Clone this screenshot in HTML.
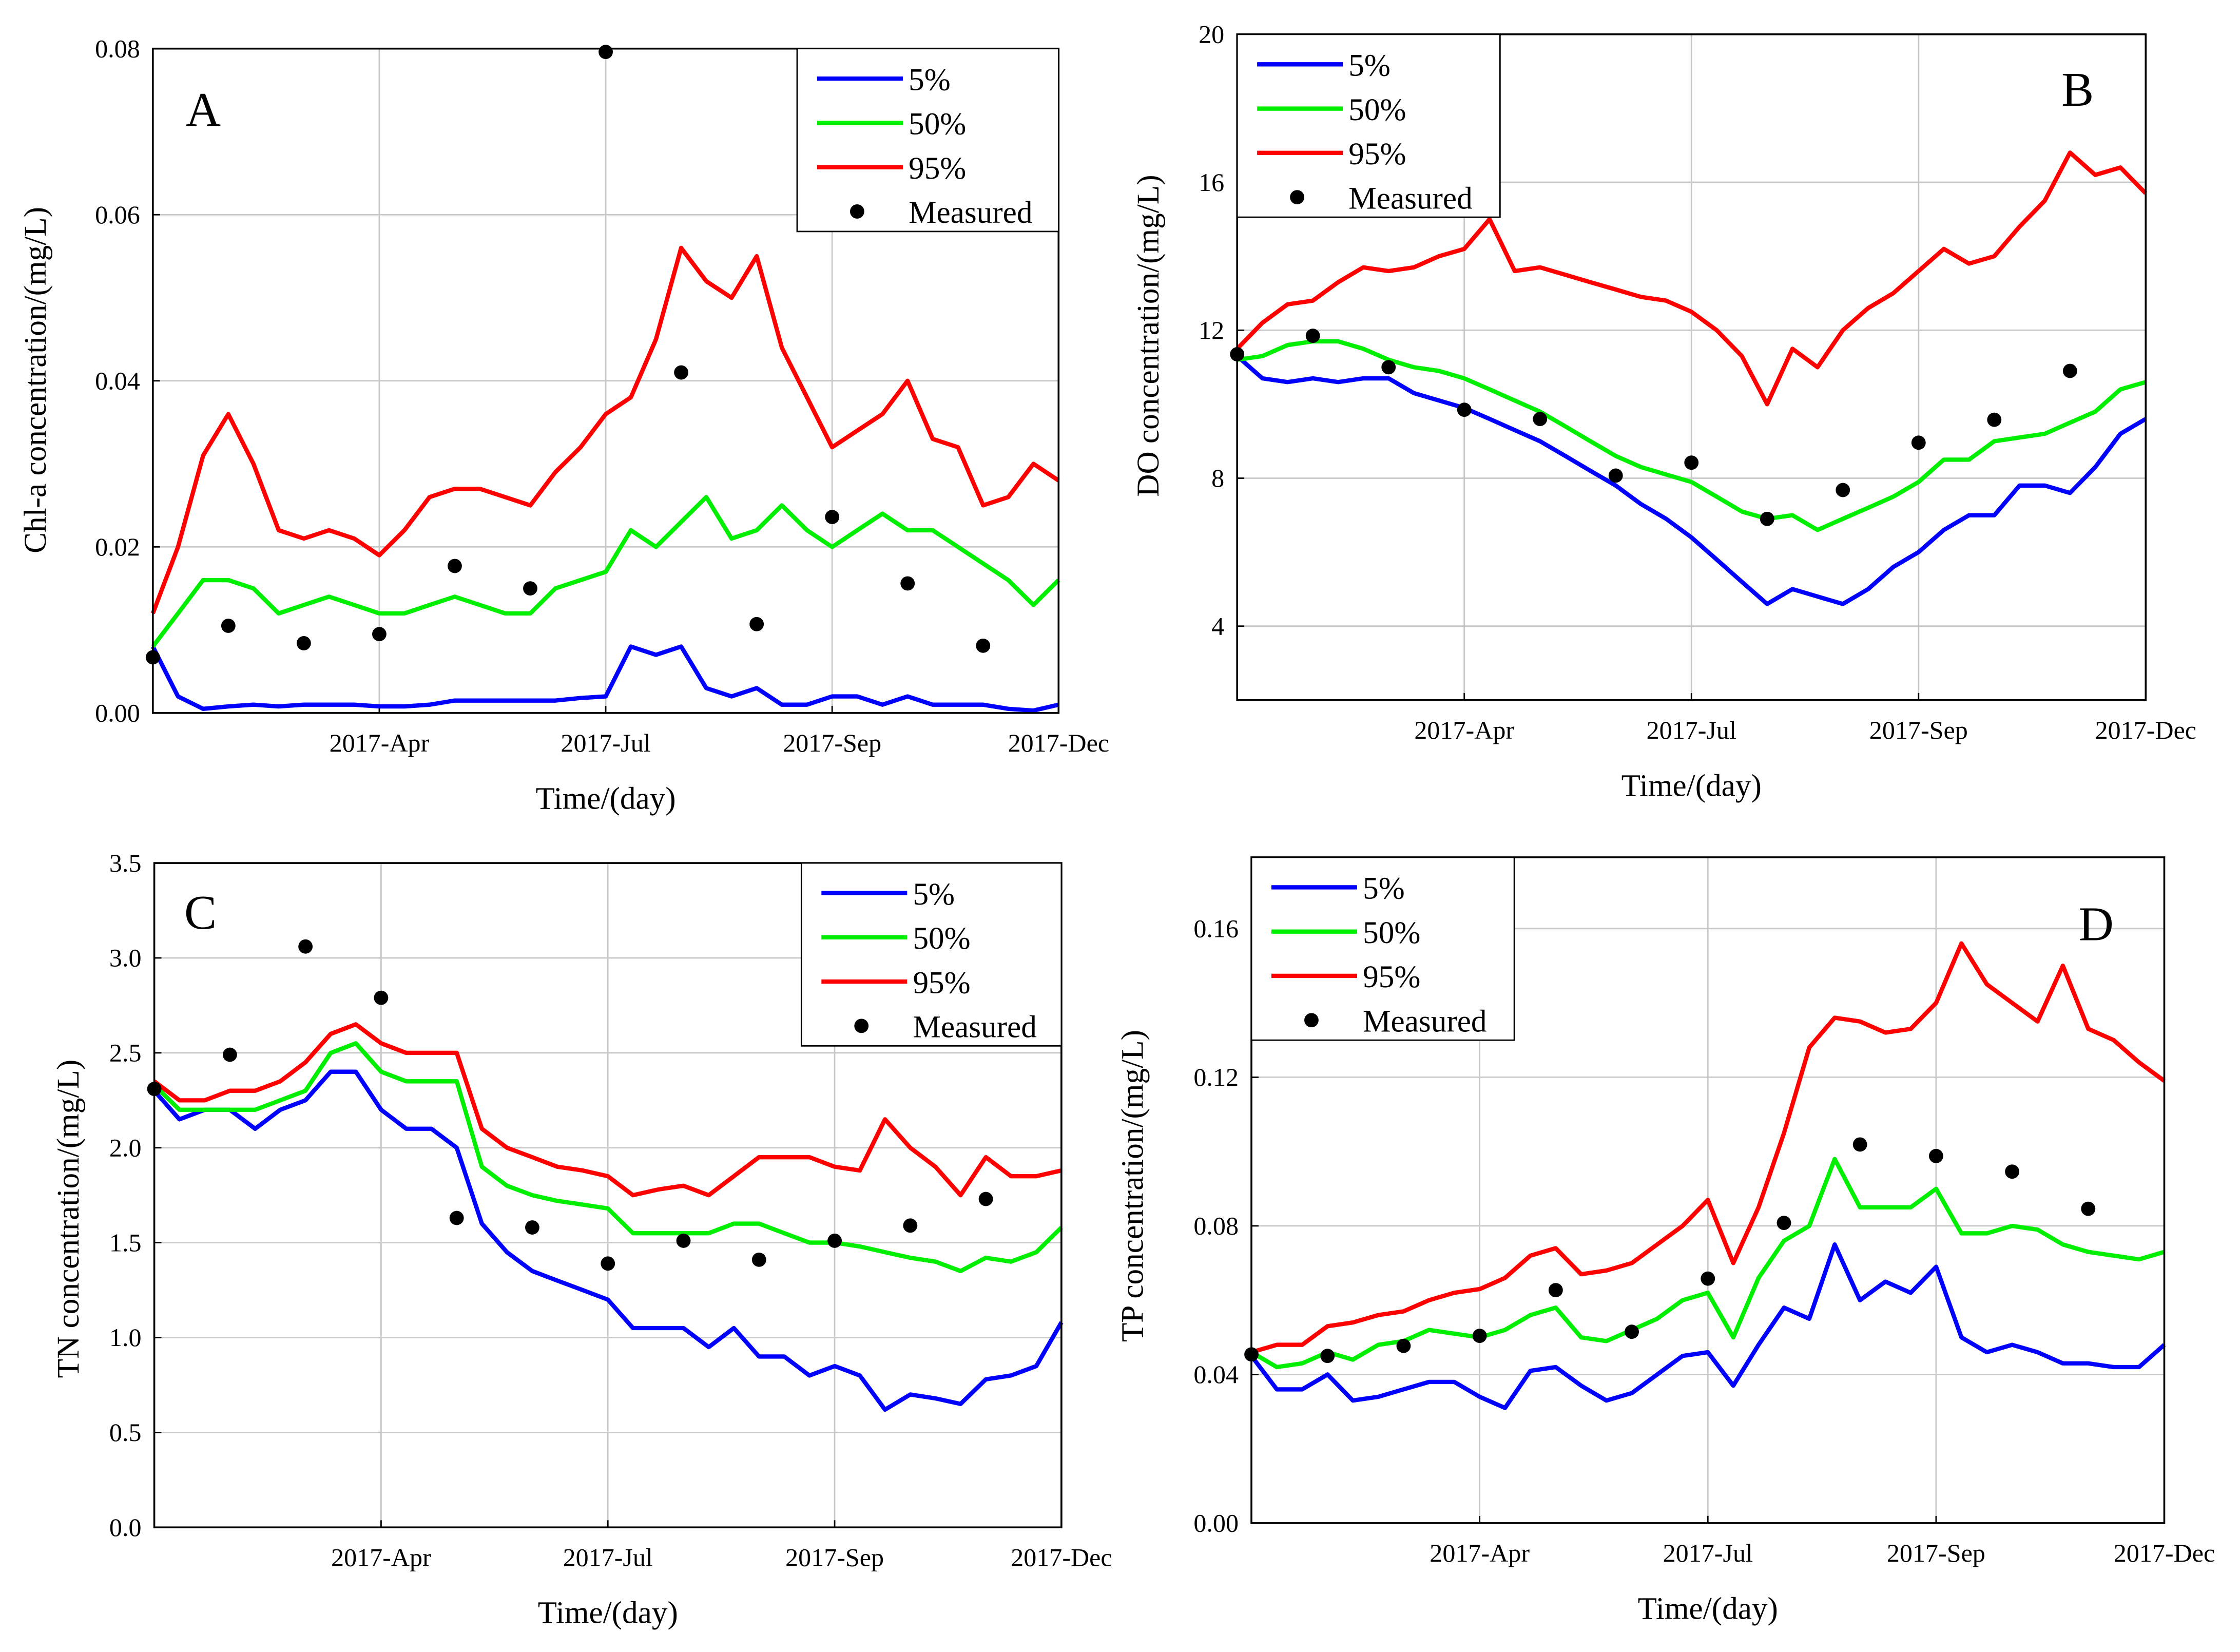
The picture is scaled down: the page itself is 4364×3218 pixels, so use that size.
<!DOCTYPE html>
<html><head><meta charset="utf-8">
<style>
html,body{margin:0;padding:0;background:#fff;}
svg, svg text{font-family:"Liberation Serif","DejaVu Serif",serif;}
</style></head>
<body>
<svg id="chart" width="4364" height="3213" viewBox="0 0 1568 1154.4" xmlns="http://www.w3.org/2000/svg" font-family="Liberation Serif, serif"></svg>
<script>
const days = [0,10,20,30,40,50,60,70,80,90,100,110,120,130,140,150,160,170,180,190,200,210,220,230,240,250,260,270,280,290,300,310,320,330,340,350,360];
const measDays = [0,30,60,90,120,150,180,210,240,270,300,330];
const xTickLabels = ["2017-Apr","2017-Jul","2017-Sep","2017-Dec"];
const xTickDays = [90,180,270,360];

const chlP5 = [0.008,0.002,0.0005,0.0008,0.001,0.0008,0.001,0.001,0.001,0.0008,0.0008,0.001,0.0015,0.0015,0.0015,0.0015,0.0015,0.0018,0.002,0.008,0.007,0.008,0.003,0.002,0.003,0.001,0.001,0.002,0.002,0.001,0.002,0.001,0.001,0.001,0.0005,0.0003,0.001];
const chlP50 = [0.008,0.012,0.016,0.016,0.015,0.012,0.013,0.014,0.013,0.012,0.012,0.013,0.014,0.013,0.012,0.012,0.015,0.016,0.017,0.022,0.020,0.023,0.026,0.021,0.022,0.025,0.022,0.020,0.022,0.024,0.022,0.022,0.020,0.018,0.016,0.013,0.016];
const chlP95 = [0.012,0.020,0.031,0.036,0.030,0.022,0.021,0.022,0.021,0.019,0.022,0.026,0.027,0.027,0.026,0.025,0.029,0.032,0.036,0.038,0.045,0.056,0.052,0.050,0.055,0.044,0.038,0.032,0.034,0.036,0.040,0.033,0.032,0.025,0.026,0.030,0.028];
const chlMeas = [0.0067,0.0105,0.0084,0.0095,0.0177,0.0150,0.0796,0.0410,0.0107,0.0236,0.0156,0.0081];

const doP5 = [11.3,10.7,10.6,10.7,10.6,10.7,10.7,10.3,10.1,9.9,9.6,9.3,9.0,8.6,8.2,7.8,7.3,6.9,6.4,5.8,5.2,4.6,5.0,4.8,4.6,5.0,5.6,6.0,6.6,7.0,7.0,7.8,7.8,7.6,8.3,9.2,9.6];
const doP50 = [11.2,11.3,11.6,11.7,11.7,11.5,11.2,11.0,10.9,10.7,10.4,10.1,9.8,9.4,9.0,8.6,8.3,8.1,7.9,7.5,7.1,6.9,7.0,6.6,6.9,7.2,7.5,7.9,8.5,8.5,9.0,9.1,9.2,9.5,9.8,10.4,10.6];
const doP95 = [11.5,12.2,12.7,12.8,13.3,13.7,13.6,13.7,14.0,14.2,15.0,13.6,13.7,13.5,13.3,13.1,12.9,12.8,12.5,12.0,11.3,10.0,11.5,11.0,12.0,12.6,13.0,13.6,14.2,13.8,14.0,14.8,15.5,16.8,16.2,16.4,15.7];
const doMeas = [11.35,11.85,11.0,9.85,9.6,8.07,8.42,6.9,7.68,8.96,9.58,10.9];

const tnP5 = [2.3,2.15,2.2,2.2,2.1,2.2,2.25,2.4,2.4,2.2,2.1,2.1,2.0,1.6,1.45,1.35,1.3,1.25,1.2,1.05,1.05,1.05,0.95,1.05,0.9,0.9,0.8,0.85,0.8,0.62,0.7,0.68,0.65,0.78,0.8,0.85,1.08];
const tnP50 = [2.33,2.2,2.2,2.2,2.2,2.25,2.3,2.5,2.55,2.4,2.35,2.35,2.35,1.9,1.8,1.75,1.72,1.7,1.68,1.55,1.55,1.55,1.55,1.6,1.6,1.55,1.5,1.5,1.48,1.45,1.42,1.4,1.35,1.42,1.4,1.45,1.58];
const tnP95 = [2.35,2.25,2.25,2.3,2.3,2.35,2.45,2.6,2.65,2.55,2.5,2.5,2.5,2.1,2.0,1.95,1.9,1.88,1.85,1.75,1.78,1.8,1.75,1.85,1.95,1.95,1.95,1.9,1.88,2.15,2.0,1.9,1.75,1.95,1.85,1.85,1.88];
const tnMeas = [2.31,2.49,3.06,2.79,1.63,1.58,1.39,1.51,1.41,1.51,1.59,1.73];

const tpP5 = [0.045,0.036,0.036,0.040,0.033,0.034,0.036,0.038,0.038,0.034,0.031,0.041,0.042,0.037,0.033,0.035,0.040,0.045,0.046,0.037,0.048,0.058,0.055,0.075,0.060,0.065,0.062,0.069,0.050,0.046,0.048,0.046,0.043,0.043,0.042,0.042,0.048];
const tpP50 = [0.046,0.042,0.043,0.046,0.044,0.048,0.049,0.052,0.051,0.050,0.052,0.056,0.058,0.050,0.049,0.052,0.055,0.060,0.062,0.050,0.066,0.076,0.080,0.098,0.085,0.085,0.085,0.090,0.078,0.078,0.080,0.079,0.075,0.073,0.072,0.071,0.073];
const tpP95 = [0.046,0.048,0.048,0.053,0.054,0.056,0.057,0.060,0.062,0.063,0.066,0.072,0.074,0.067,0.068,0.070,0.075,0.080,0.087,0.070,0.085,0.105,0.128,0.136,0.135,0.132,0.133,0.140,0.156,0.145,0.140,0.135,0.150,0.133,0.130,0.124,0.119];
const tpMeas = [0.0454,0.045,0.0477,0.0504,0.0627,0.0515,0.0658,0.0808,0.1019,0.0988,0.0946,0.0846];

const NS = "http://www.w3.org/2000/svg";
const FF = '"Liberation Serif", "DejaVu Serif", serif';
const svg = document.getElementById('chart');
function mk(tag, attrs, parent, text){
  const e = document.createElementNS(NS, tag);
  for (const k in attrs) e.setAttribute(k, attrs[k]);
  if (tag === 'text') { e.setAttribute('font-family', FF); e.style.fontFamily = FF; }
  if (text !== undefined) e.textContent = text;
  (parent || svg).appendChild(e);
  return e;
}

function panel(cfg){
  const g = mk('g', {});
  
  
  const {x0,x1,y0,y1,vmin,vmax} = cfg;
  const X = d => x0 + d/360*(x1-x0);
  const Y = v => y0 - (v-vmin)/(vmax-vmin)*(y0-y1);
  cfg.yTicks.forEach(t=>{
    const y = Y(t);
    if (y > y1+1 && y < y0-1) {
      const l = mk('line',{x1:x0,x2:x1,y1:y,y2:y,stroke:'#c8c8c8','stroke-width':1},g);
      
      
    }
    const tk = mk('line',{x1:x0,x2:x0+5,y1:y,y2:y,stroke:'#000','stroke-width':1},g);
    
    
    const tl = mk('text',{x:x0-9,y:y+6,'text-anchor':'end','font-size':18},g,cfg.yFmt(t));
    
    
  });
  xTickDays.forEach((d,i)=>{
    const x = X(d);
    if (d < 360) {
      const l = mk('line',{x1:x,x2:x,y1:y1,y2:y0,stroke:'#c8c8c8','stroke-width':1},g);
      
      
    }
    const tk = mk('line',{x1:x,x2:x,y1:y0,y2:y0-5,stroke:'#000','stroke-width':1},g);
    
    
    const tl = mk('text',{x:x,y:y0+27,'text-anchor':'middle','font-size':18},g,xTickLabels[i]);
    
    
  });
  const series = [[cfg.p5,'#0000ff','p5-line'],[cfg.p50,'#00ee00','p50-line'],[cfg.p95,'#ff0000','p95-line']];
  series.forEach(([arr,col,nm])=>{
    const dstr = arr.map((v,i)=>(i?'L':'M')+X(days[i]).toFixed(1)+','+Y(v).toFixed(1)).join(' ');
    const p = mk('path',{d:dstr,fill:'none',stroke:col,'stroke-width':3,'stroke-linejoin':'round'},g);
    
    
  });
  cfg.meas.forEach((v,i)=>{
    const c = mk('circle',{cx:X(measDays[i]),cy:Y(v),r:5,fill:'#000'},g);
    
    
  });
  const fr = mk('rect',{x:x0,y:y1,width:x1-x0,height:y0-y1,fill:'none',stroke:'#000','stroke-width':1.3},g);
  
  
  const L = cfg.leg;
  const lg = mk('g',{},g);
  
  
  mk('rect',{x:L.x,y:L.y,width:L.w,height:128,fill:'#fff',stroke:'#000','stroke-width':1},lg);
  const labs = [['5%','#0000ff'],['50%','#00ee00'],['95%','#ff0000']];
  labs.forEach(([t,c],i)=>{
    const yy = L.y+21+i*31;
    const e = mk('line',{x1:L.x+14,x2:L.x+74,y1:yy,y2:yy,stroke:c,'stroke-width':3},lg);
    
    
    const tt = mk('text',{x:L.x+78,y:yy+8,'font-size':22},lg,t);
    
    
  });
  const md = mk('circle',{cx:L.x+42,cy:L.y+114,r:5,fill:'#000'},lg);
  
  
  const mt = mk('text',{x:L.x+78,y:L.y+122,'font-size':22},lg,'Measured');
  
  
  const lt = mk('text',{x:cfg.letter[0],y:cfg.letter[1],'font-size':34},g,cfg.letter[2]);
  
  
  const yt = mk('text',{x:0,y:0,'font-size':22,'text-anchor':'middle',transform:`translate(${cfg.ytitle[0]},${cfg.ytitle[1]}) rotate(-90)`},g,cfg.ytitle[2]);
  
  
  const xt = mk('text',{x:(x0+x1)/2,y:y0+67,'font-size':22,'text-anchor':'middle'},g,'Time/(day)');
  
  
}

panel({name:'panel-a-chla',x0:107,x1:741,y0:499,y1:34,vmin:0,vmax:0.08,
  yTicks:[0,0.02,0.04,0.06,0.08],yFmt:t=>t.toFixed(2),
  p5:chlP5,p50:chlP50,p95:chlP95,meas:chlMeas,
  leg:{x:558,y:34,w:183},letter:[130,88,'A'],ytitle:[32,266,'Chl-a concentration/(mg/L)']});
panel({name:'panel-b-do',x0:866,x1:1502,y0:490,y1:24,vmin:2,vmax:20,
  yTicks:[4,8,12,16,20],yFmt:t=>String(t),
  p5:doP5,p50:doP50,p95:doP95,meas:doMeas,
  leg:{x:866,y:24,w:184},letter:[1443,74,'B'],ytitle:[811,235,'DO concentration/(mg/L)']});
panel({name:'panel-c-tn',x0:108,x1:743,y0:1069,y1:604,vmin:0,vmax:3.5,
  yTicks:[0,0.5,1,1.5,2,2.5,3,3.5],yFmt:t=>t.toFixed(1),
  p5:tnP5,p50:tnP50,p95:tnP95,meas:tnMeas,
  leg:{x:561,y:604,w:182},letter:[129,650,'C'],ytitle:[55,853,'TN concentration/(mg/L)']});
panel({name:'panel-d-tp',x0:876,x1:1515,y0:1066,y1:600,vmin:0,vmax:0.1792,
  yTicks:[0,0.04,0.08,0.12,0.16],yFmt:t=>t.toFixed(2),
  p5:tpP5,p50:tpP50,p95:tpP95,meas:tpMeas,
  leg:{x:876,y:600,w:184},letter:[1455,658,'D'],ytitle:[800,830,'TP concentration/(mg/L)']});
</script>
</body></html>
